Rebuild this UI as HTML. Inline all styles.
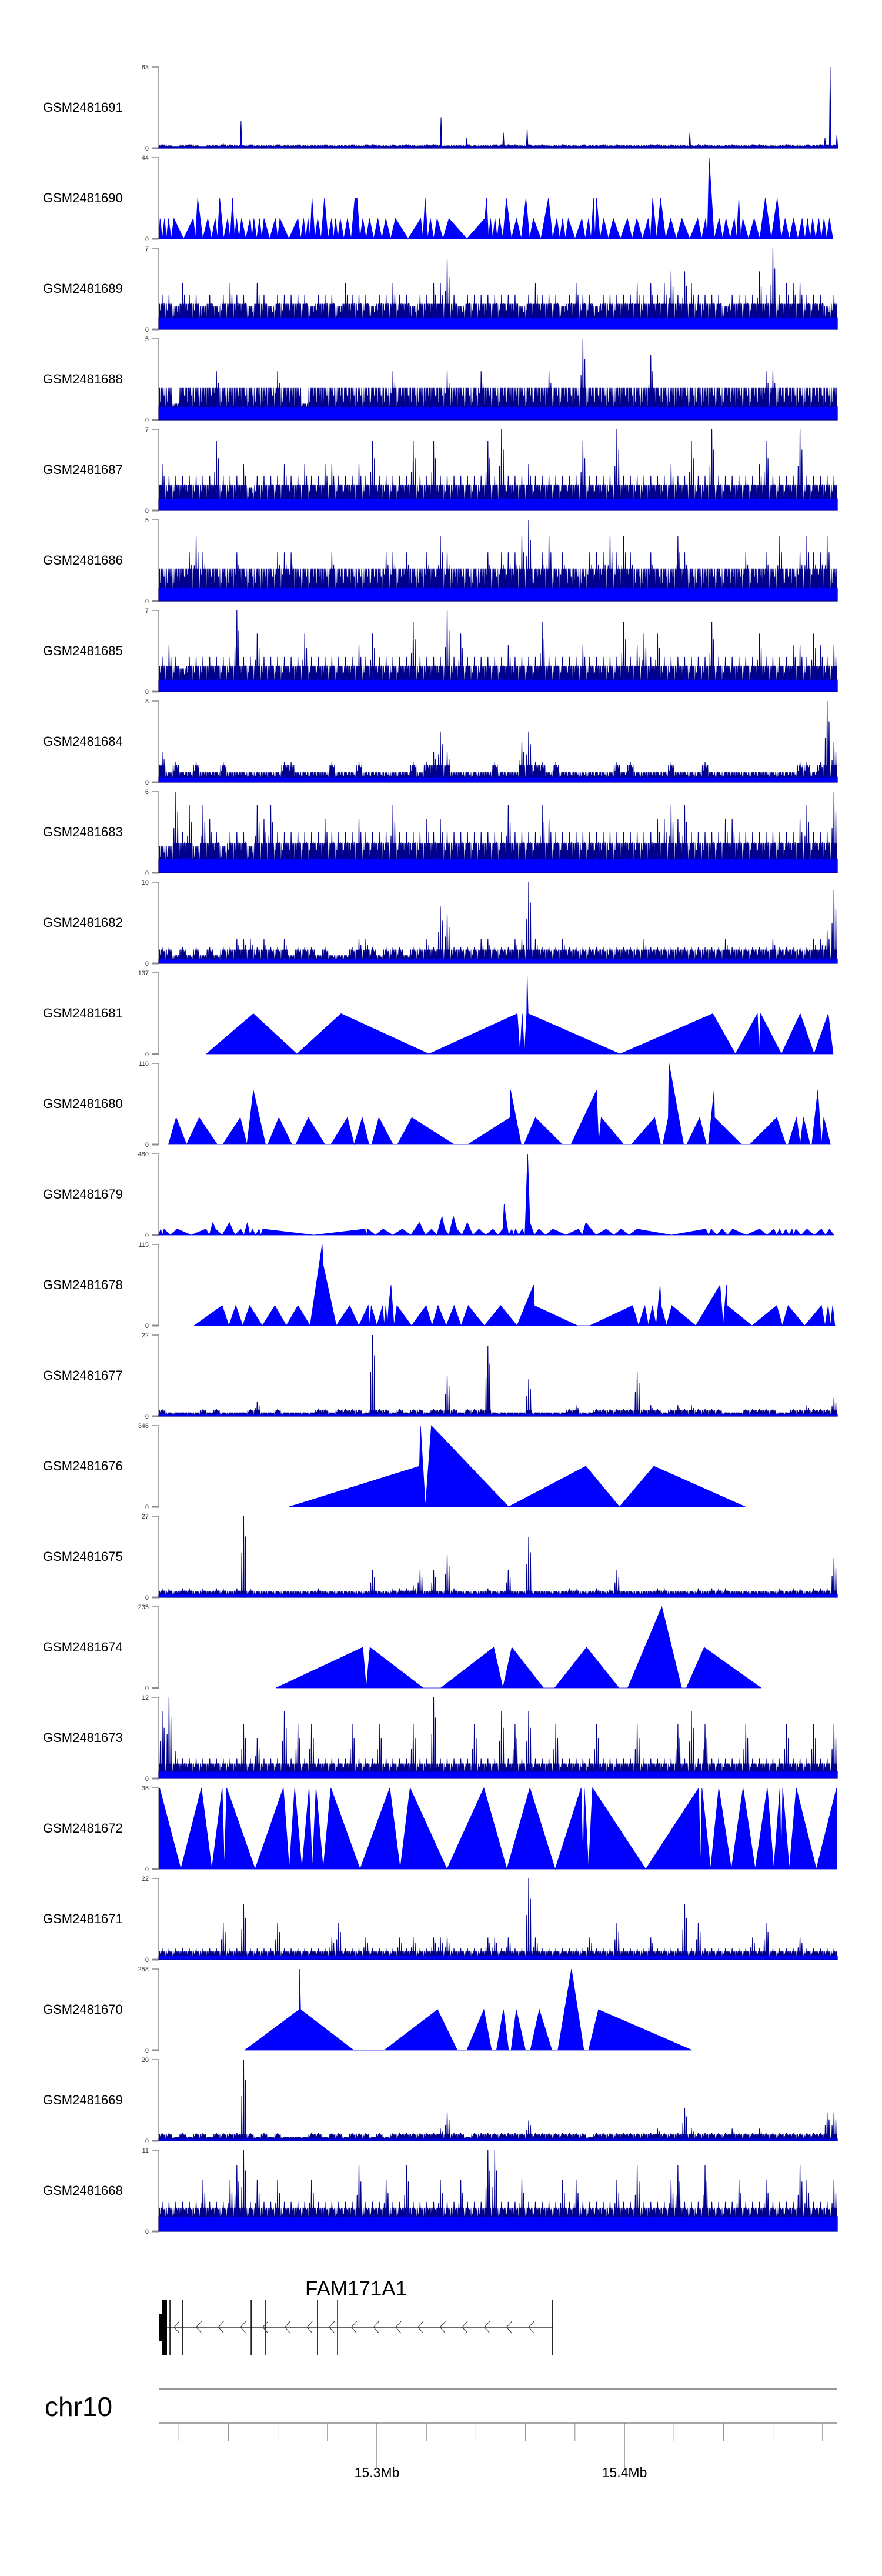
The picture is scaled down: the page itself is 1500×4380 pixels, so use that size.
<!DOCTYPE html>
<html><head><meta charset="utf-8"><title>Coverage tracks</title>
<style>
html,body{margin:0;padding:0;background:#fff;}
svg{display:block;font-family:"Liberation Sans",Arial,sans-serif;}
</style></head>
<body>
<svg id="chart" width="1500" height="4380" viewBox="0 0 1500 4380" xmlns="http://www.w3.org/2000/svg">
<rect width="1500" height="4380" fill="#fff"/>
<g id="tracks"></g>
<g id="gene"></g>
<g id="axis"></g>
</svg>
<script>
// ---- track names & y maxima (top to bottom) ----
const trackNames = ["GSM2481691","GSM2481690","GSM2481689","GSM2481688","GSM2481687","GSM2481686","GSM2481685","GSM2481684","GSM2481683","GSM2481682","GSM2481681","GSM2481680","GSM2481679","GSM2481678","GSM2481677","GSM2481676","GSM2481675","GSM2481674","GSM2481673","GSM2481672","GSM2481671","GSM2481670","GSM2481669","GSM2481668"];
const trackMax = [63,44,7,5,7,5,7,8,6,10,137,116,480,115,22,346,27,235,12,36,22,258,20,11];

// ---- noisy tracks: 100 binned coverage values ----
const bins691 = [3,2,1,2,3,2,1,2,2,4,3,2,2,3,2,2,2,3,2,2,3,2,2,2,3,2,2,2,3,2,3,3,2,2,3,2,3,2,2,3,3,2,2,2,2,3,2,2,2,3,3,3,3,2,3,2,3,2,2,3,2,2,3,2,2,3,2,3,2,2,2,2,3,3,2,3,2,2,2,3,3,2,2,2,3,2,2,3,3,2,2,2,3,2,2,3,2,3,3,3];
const peakPos691 = [15245.1,15325.9,15336.3,15351.1,15360.7,15426.4,15481.0,15483.1,15485.8];
const peakVal691 = [21,24,8,12,15,12,8,63,10];
const bins689 = [3,3,2,4,3,3,2,3,2,3,4,3,3,2,4,3,2,3,3,3,3,3,2,3,3,3,2,4,3,3,3,2,3,3,4,3,3,2,3,3,4,4,6,3,2,3,3,3,3,3,3,3,3,2,3,4,3,3,3,2,3,4,3,3,2,3,3,3,3,3,4,3,4,3,4,5,3,5,4,3,3,3,3,2,3,3,3,3,5,3,7,3,4,4,4,3,3,3,2,3];
const bins688 = [2,2,1,2,2,2,2,2,3,2,2,2,2,2,2,2,2,3,2,2,2,1,2,2,2,2,2,2,2,2,2,2,2,2,3,2,2,2,2,2,2,2,3,2,2,2,2,3,2,2,2,2,2,2,2,2,2,3,2,2,2,2,5,2,2,2,2,2,2,2,2,2,4,2,2,2,2,2,2,2,2,2,2,2,2,2,2,2,2,3,3,2,2,2,2,2,2,2,2,2];
const bins687 = [4,3,3,3,3,3,3,3,6,3,3,3,4,2,3,3,3,3,4,3,3,4,3,3,4,4,3,3,3,4,3,6,3,3,3,3,3,6,3,3,6,3,3,3,3,3,3,3,6,3,7,3,3,3,4,3,3,3,3,3,3,3,6,3,3,3,3,7,3,3,3,3,3,3,3,4,3,3,6,3,3,7,3,3,3,3,3,3,4,6,3,3,3,3,7,3,3,3,3,3];
const bins686 = [2,2,2,2,3,4,3,2,2,2,2,3,2,2,2,2,2,3,3,3,2,2,2,2,2,3,2,2,2,2,2,2,2,3,3,2,3,2,2,3,2,4,3,2,2,2,2,2,3,2,3,3,3,4,5,2,3,4,2,3,2,2,2,3,3,3,4,3,4,3,2,2,3,2,2,2,4,3,2,2,2,2,2,2,2,2,3,2,2,3,2,4,2,2,3,4,3,3,4,2];
const bins685 = [3,4,3,2,3,3,3,3,3,3,3,7,3,3,5,3,3,3,3,3,3,5,3,3,3,3,3,3,3,4,3,5,3,3,3,3,3,6,3,3,3,3,7,3,5,3,3,3,3,3,3,4,3,3,3,3,6,3,3,3,3,3,4,3,3,3,3,3,6,3,4,5,3,5,3,3,3,3,3,3,3,6,3,3,3,3,3,3,5,3,3,3,3,4,4,3,5,4,3,4];
const bins684 = [3,1,2,1,1,2,1,1,1,2,1,1,1,1,1,1,1,1,2,2,1,1,1,1,1,2,1,1,1,2,1,1,1,1,1,1,1,2,1,2,3,5,3,1,1,1,1,1,1,2,1,1,1,4,5,2,2,1,2,1,1,1,1,1,1,1,1,2,1,2,1,1,1,1,1,2,1,1,1,1,2,1,1,1,1,1,1,1,1,1,1,1,1,1,2,2,1,2,8,4];
const bins683 = [2,2,6,3,5,2,5,4,3,2,3,3,3,2,5,4,5,3,3,3,3,3,3,3,4,3,3,3,3,4,3,3,3,3,5,3,3,3,3,4,3,4,3,3,3,3,3,3,3,3,3,5,3,3,3,3,5,4,3,3,3,3,3,3,3,3,3,3,3,3,3,3,3,4,4,5,4,5,3,3,3,3,3,4,4,3,3,3,3,3,3,3,3,3,4,5,3,3,3,6];
const bins682 = [2,2,1,2,1,2,1,2,1,2,2,3,3,3,2,3,2,2,3,1,2,2,2,1,2,1,1,1,2,3,3,2,1,2,2,2,1,2,2,3,2,7,6,2,2,2,2,3,3,2,2,2,3,3,10,3,2,2,2,3,2,2,2,2,2,2,2,2,2,2,2,3,2,2,2,2,2,2,2,2,2,2,2,3,2,2,2,2,2,2,3,2,2,2,2,2,3,3,4,9];
const bins677 = [2,1,1,1,1,1,2,1,2,1,1,1,1,2,4,1,1,2,1,1,1,1,1,2,2,1,2,2,2,2,1,22,2,2,1,2,1,2,2,1,2,2,11,2,1,2,2,2,19,1,1,1,1,1,10,1,1,1,1,1,2,3,1,1,2,2,2,2,2,2,12,2,3,2,1,2,3,2,3,2,2,2,2,1,1,1,2,2,2,2,2,1,1,2,2,3,2,2,2,5];
const bins675 = [3,3,2,3,3,2,3,2,3,3,2,3,27,3,2,2,2,2,2,2,2,2,2,3,2,2,2,2,2,2,2,9,2,2,3,3,3,4,9,2,9,2,14,3,2,2,2,2,3,2,2,9,2,2,20,2,2,2,2,2,3,3,2,2,3,2,3,9,2,2,2,2,2,3,3,2,2,2,2,3,2,3,3,3,2,2,2,2,2,2,2,3,2,3,3,2,3,3,3,13];
const bins673 = [10,12,4,3,3,3,3,3,3,3,3,3,8,3,6,3,3,3,10,3,8,3,8,3,3,3,3,3,8,3,3,3,8,3,3,3,3,8,3,3,12,3,3,3,3,3,8,3,3,3,10,3,8,3,10,3,3,3,8,3,3,3,3,3,8,3,3,3,3,3,8,3,3,3,3,3,8,3,10,3,8,3,3,3,3,3,8,3,3,3,3,3,8,3,3,3,8,3,3,8];
const bins671 = [3,3,3,3,3,3,3,3,3,10,3,3,15,3,3,3,3,10,3,3,3,3,3,3,3,6,10,3,3,3,6,3,3,3,3,6,3,6,3,3,6,6,6,3,3,3,3,3,6,6,3,6,3,3,22,6,3,3,3,3,3,3,3,6,3,3,3,10,3,3,3,3,6,3,3,3,3,15,3,10,3,3,3,3,3,3,3,6,3,10,3,3,3,3,6,3,3,3,3,3];
const bins669 = [2,2,1,2,1,2,2,1,2,2,2,2,20,2,1,2,1,2,1,1,1,1,2,2,1,2,2,1,2,2,2,1,2,1,2,2,2,2,2,2,2,3,7,2,2,1,2,2,2,2,2,2,2,2,5,2,2,2,2,2,2,2,2,1,2,2,2,2,2,2,2,2,2,3,2,2,2,8,3,2,2,2,2,2,3,2,2,2,3,2,2,2,2,2,2,2,2,2,7,7];
const bins668 = [4,4,4,4,4,4,7,4,4,4,7,9,11,4,7,4,4,7,4,4,4,4,7,4,4,4,4,4,4,9,4,4,4,7,4,4,9,4,4,4,4,7,4,4,7,4,4,4,11,11,4,4,4,7,4,4,4,4,4,7,4,7,4,4,4,4,4,7,4,4,9,4,4,4,4,7,9,4,4,4,9,4,4,4,4,7,4,4,4,7,4,4,4,4,9,7,4,4,4,7];
const bgLevel = {691:1,689:1,688:0.8,687:1,686:0.8,685:1,684:0.5,683:1,682:0.5,677:0.5,675:1,673:1,671:1,669:0.5,668:2};

// ---- sparse (triangle) tracks: peak positions (kb), peak values, zero positions (kb) ----
const pos690 = [15212.4,15214.2,15215.8,15218.0,15225.8,15227.6,15231.7,15234.7,15236.5,15239.7,15241.7,15243.3,15245.3,15248.8,15250.3,15252.6,15254.4,15259.0,15260.8,15268.1,15270.4,15272.2,15273.8,15276.1,15278.8,15281.7,15283.3,15285.2,15288.1,15291.1,15292.0,15294.3,15297.0,15300.4,15303.6,15307.5,15317.7,15319.5,15321.6,15324.3,15329.1,15343.6,15344.3,15345.9,15347.7,15349.5,15352.3,15356.4,15360.2,15363.2,15369.3,15372.7,15375.0,15377.3,15382.8,15385.5,15387.5,15388.7,15391.6,15395.5,15401.2,15405.0,15409.6,15411.4,15414.6,15418.7,15423.2,15429.6,15432.8,15434.2,15438.3,15441.0,15444.4,15446.2,15447.8,15452.4,15456.9,15461.7,15464.9,15468.3,15471.8,15474.0,15476.0,15478.5,15480.6,15482.8];
const val690 = [11,11,11,11,11,22,11,11,22,11,22,11,11,11,11,11,11,11,11,11,11,11,22,11,22,11,11,11,11,22,22,11,11,11,11,11,11,22,11,11,11,11,22,11,11,11,22,11,22,11,22,11,11,11,11,11,22,22,11,11,11,11,11,22,22,11,11,11,11,44,11,11,11,22,11,11,22,22,11,11,11,11,11,11,11,11];
const ends690 = [15211.9,15484.2];

const pos681 = [15250.1,15285.5,15356.7,15358.7,15360.5,15360.7,15361.1,15435.7,15453.7,15455.0,15471.0,15482.3];
const val681 = [68,68,68,68,68,137,68,68,68,68,68,68];
const zero681 = [15231.1,15267.7,15321.0,15357.8,15359.6,15398.2,15444.8,15454.4,15463.4,15476.6,15484.3];

const pos680 = [15218.9,15228.2,15244.8,15250.1,15260.4,15272.3,15288.1,15294.1,15300.8,15314.1,15353.8,15354.0,15364.0,15388.7,15390.6,15412.2,15417.7,15418.0,15430.4,15436.2,15436.4,15461.5,15469.5,15472.3,15478.1,15480.5];
const val680 = [38.5,38.5,38.5,77.5,38.5,38.5,38.5,38.5,38.5,38.5,38.5,77.5,38.5,77.5,38.5,38.5,38.5,116,38.5,77.5,38.5,38.5,38.5,38.5,77.5,38.5];
const zero680 = [15215.8,15223.1,15235.5,15237.7,15247.5,15255.0,15255.9,15265.7,15267.2,15279.0,15281.4,15290.8,15296.8,15297.9,15306.5,15308.3,15331.2,15336.7,15358.3,15359.4,15374.9,15378.4,15389.6,15399.7,15402.8,15414.6,15415.5,15423.9,15425.1,15433.1,15433.9,15447.3,15450.6,15465.2,15466.1,15471.0,15475.0,15475.7,15479.6,15483.2];

const pos679 = [15212.7,15214.0,15219.3,15230.9,15233.7,15234.8,15240.4,15245.0,15247.7,15249.7,15252.4,15253.9,15295.2,15296.3,15302.5,15310.3,15317.2,15322.1,15326.3,15327.4,15330.9,15332.3,15336.5,15341.2,15346.9,15350.9,15351.4,15352.0,15354.5,15356.0,15358.7,15360.9,15361.8,15365.4,15371.1,15381.5,15384.4,15392.7,15398.7,15405.1,15432.8,15435.1,15439.5,15443.7,15454.6,15460.4,15462.6,15465.2,15467.7,15469.2,15473.7,15479.6,15482.8];
const val679 = [36,36,36,36,74,36,74,36,74,36,36,36,36,36,36,36,74,36,111,36,111,36,74,36,36,36,183,111,36,36,36,480,74,36,36,36,74,36,36,36,36,36,36,36,36,36,36,36,36,36,36,36,36];
const zero679 = [15211.8,15213.3,15216.5,15225.0,15232.3,15237.5,15242.7,15246.3,15248.7,15251.0,15253.1,15274.5,15295.7,15299.4,15306.4,15313.7,15319.6,15324.2,15329.1,15334.4,15338.8,15344.0,15348.9,15353.2,15355.2,15357.3,15359.8,15363.6,15368.2,15376.3,15383.0,15388.5,15395.7,15401.9,15419.0,15434.0,15437.3,15441.6,15449.1,15457.5,15461.5,15463.9,15466.4,15468.4,15471.4,15476.6,15481.2,15484.6];

const pos678 = [15237.5,15243.0,15248.6,15258.8,15268.1,15277.9,15278.3,15289.0,15296.5,15297.7,15302.3,15303.6,15304.8,15305.7,15308.1,15319.9,15324.7,15331.2,15336.9,15350.0,15363.3,15363.6,15403.3,15408.2,15411.3,15414.4,15414.8,15419.1,15438.6,15441.2,15441.5,15461.5,15466.1,15479.6,15482.3,15484.1];
const val678 = [28.5,28.5,28.5,28.5,28.5,115,86,28.5,28.5,28.5,28.5,28.5,28.5,57.5,28.5,28.5,28.5,28.5,28.5,28.5,57.5,28.5,28.5,28.5,28.5,57.5,28.5,28.5,57.5,57.5,28.5,28.5,28.5,28.5,28.5,28.5];
const zero678 = [15226.2,15240.2,15245.8,15253.7,15263.4,15273.0,15283.6,15292.7,15297.1,15300.0,15302.9,15304.2,15306.9,15314.0,15322.3,15328.0,15334.0,15343.4,15356.6,15381.0,15386.0,15405.7,15409.7,15412.8,15417.0,15428.8,15439.9,15451.5,15463.8,15472.8,15481.0,15483.2,15485.0];

const pos676 = [15317.2,15317.6,15322.0,15384.4,15411.9];
const val676 = [173,346,346,173,173];
const zero676 = [15264.6,15319.6,15353.2,15398.0,15448.8];

const pos674 = [15294.3,15297.2,15347.2,15354.5,15384.7,15415.1,15432.2];
const val674 = [117.5,117.5,117.5,117.5,117.5,235,117.5];
const zero674 = [15259.2,15295.7,15318.7,15325.8,15350.9,15367.3,15371.8,15397.8,15401.3,15423.1,15425.0,15455.2];

const pos672 = [15212.2,15229.1,15237.5,15239.3,15262.2,15266.8,15272.6,15275.4,15281.4,15305.2,15313.4,15343.2,15361.8,15382.5,15383.8,15387.1,15430.0,15431.3,15438.1,15447.9,15457.7,15462.8,15463.9,15469.4,15485.7];
const val672 = [36,36,36,36,36,36,36,36,36,36,36,36,36,36,36,36,36,36,36,36,36,36,36,36,36];
const zero672 = [15220.8,15233.3,15238.4,15250.8,15264.6,15269.7,15273.9,15278.3,15293.2,15309.4,15328.3,15352.5,15372.0,15383.3,15385.5,15408.6,15430.7,15434.8,15443.2,15452.8,15460.3,15463.3,15466.6,15477.5];

const pos670 = [15268.6,15268.8,15269.2,15324.5,15343.2,15351.1,15356.3,15365.6,15378.6,15389.5];
const val670 = [129,258,129,129,129,129,129,129,258,129];
const zero670 = [15246.6,15290.6,15303.0,15332.5,15336.3,15346.3,15348.3,15353.2,15354.2,15360.0,15362.0,15370.7,15373.1,15383.6,15385.5,15427.3];

// ---- gene & axis ----
const exonLines = [15216.4,15221.4,15249.2,15255.1,15276.0,15284.1,15371.0];
const axisTicks = [15220,15230,15240,15250,15260,15270,15280,15290,15300,15310,15320,15330,15340,15350,15360,15370,15380,15390,15400,15410,15420,15430,15440,15450,15460,15470,15480];
const majorTicks = [15300,15400];
const majorLabels = ["15.3Mb","15.4Mb"];

// ---- geometry ----
const NS = "http://www.w3.org/2000/svg";
const domStart = 15211.9, domEnd = 15486.0;
function xScale(kb){ return 641 + (kb - 15300) * 4.21; }
const trackTop0 = 114, trackStep = 154, trackH = 138;
function yScale(i, v){ const base = trackTop0 + trackStep*i + trackH; return base - (v / trackMax[i]) * trackH; }
function mk(tag, attrs, parent){ const e = document.createElementNS(NS, tag); for (const k in attrs) e.setAttribute(k, attrs[k]); parent.appendChild(e); return e; }

const tracksG = document.getElementById('tracks');
const noisy = {691:[bins691,peakPos691,peakVal691],689:[bins689],688:[bins688],687:[bins687],686:[bins686],685:[bins685],684:[bins684],683:[bins683],682:[bins682],677:[bins677],675:[bins675],673:[bins673],671:[bins671],669:[bins669],668:[bins668]};
const sparse = {681:[pos681,val681,zero681],680:[pos680,val680,zero680],679:[pos679,val679,zero679],678:[pos678,val678,zero678],676:[pos676,val676,zero676],674:[pos674,val674,zero674],672:[pos672,val672,zero672],670:[pos670,val670,zero670]};

trackNames.forEach((name, i) => {
  const id = +name.slice(-3);
  const top = trackTop0 + trackStep*i, base = top + trackH;
  const g = mk('g', {}, tracksG);
  
  
  const lab = mk('text', {x:73, y:top+76, 'font-size':22, fill:'#000'}, g);
  lab.textContent = name;
  
  
  const ax = mk('path', {d:`M259 ${top}H270V${base}H259`, stroke:'#8c8c8c', 'stroke-width':1.5, fill:'none'}, g);
  
  
  mk('line', {x1:259, x2:270, y1:base, y2:base, stroke:'#8c8c8c', 'stroke-width':3}, g);
  const tMax = mk('text', {x:253, y:top+4, 'font-size':11, 'text-anchor':'end', fill:'#333'}, g);
  tMax.textContent = trackMax[i];
  
  
  const t0 = mk('text', {x:253, y:base+4, 'font-size':11, 'text-anchor':'end', fill:'#333'}, g);
  t0.textContent = '0';
  
  

  if (noisy[id]) {
    const bins = noisy[id][0];
    const bg = bgLevel[id];
    const bw = (domEnd - domStart) / bins.length;
    const x0 = xScale(domStart), x1 = xScale(domEnd);
    const band = mk('rect', {x:x0, y:yScale(i,bg), width:x1-x0, height:base-yScale(i,bg), fill:'#0000b4'}, g);
    
    
    let d = `M${x0} ${base}L${x0} ${yScale(i,bg)}`;
    const yb = yScale(i,bg);
    bins.forEach((v, b) => {
      const c = xScale(domStart + (b+0.5)*bw);
      const h1 = Math.max(bg, v*0.55), h2 = Math.max(bg, v*0.75), h3 = Math.max(bg, Math.min(v, bg+1.2));
      d += `L${c-5} ${yb}L${c-4.4} ${yScale(i,h3)}L${c-3.8} ${yb}L${c-3.2} ${yScale(i,h1)}L${c-2.4} ${yb}L${c-1.6} ${yScale(i,h3)}L${c-0.8} ${yb}L${c} ${yScale(i,v)}L${c+0.8} ${yb}L${c+1.6} ${yScale(i,h3)}L${c+2.4} ${yb}L${c+3.2} ${yScale(i,h2)}L${c+4} ${yb}L${c+4.6} ${yScale(i,h3)}L${c+5.2} ${yb}`;
    });
    d += `L${x1} ${yb}L${x1} ${base}Z`;
    const p = mk('path', {d:d, fill:'#0000ff', stroke:'#00008b', 'stroke-width':1.2, 'stroke-linejoin':'miter'}, g);
    
    
    if (noisy[id][1]) {
      const pp = noisy[id][1], pv = noisy[id][2];
      pp.forEach((kb, k) => {
        const c = xScale(kb);
        const s = mk('path', {d:`M${c-1.5} ${base}L${c} ${yScale(i,pv[k])}L${c+1.5} ${base}Z`, fill:'#0000ff', stroke:'#00008b', 'stroke-width':1}, g);
        
        
      });
    }
  } else {
    let pts = [];
    let posA, valA, zeros = null, ends = null;
    if (id === 690) { posA = pos690; valA = val690; ends = ends690; }
    else { posA = sparse[id][0]; valA = sparse[id][1]; zeros = sparse[id][2]; }
    posA.forEach((p, k) => pts.push([p, valA[k]]));
    if (zeros) zeros.forEach(z => pts.push([z, 0]));
    else {
      for (let k = 0; k < posA.length-1; k++) if (posA[k+1]-posA[k] > 1) pts.push([(posA[k]+posA[k+1])/2, 0]);
      pts.push([ends[0],0]); pts.push([ends[1],0]);
    }
    pts.sort((a,b) => a[0]-b[0]);
    let d = `M${xScale(pts[0][0])} ${base}`;
    pts.forEach(pt => { d += `L${xScale(pt[0])} ${yScale(i, pt[1])}`; });
    d += `L${xScale(pts[pts.length-1][0])} ${base}Z`;
    const p = mk('path', {d:d, fill:'#0000ff', stroke:'#0000ee', 'stroke-width':0.8}, g);
    
    
  }
});

// ---- gene track ----
const geneG = document.getElementById('gene');
const gl = mk('text', {x:519, y:3903, 'font-size':35, fill:'#000'}, geneG);
gl.textContent = 'FAM171A1';


const intron = mk('line', {x1:xScale(15215.2), x2:xScale(15371.0), y1:3957, y2:3957, stroke:'#333', 'stroke-width':1.5}, geneG);


const ex1 = mk('rect', {x:xScale(15213.3), y:3911, width:xScale(15215.2)-xScale(15213.3), height:93, fill:'#000'}, geneG);


const ex2 = mk('rect', {x:xScale(15212.1), y:3934, width:xScale(15215.2)-xScale(15212.1), height:47, fill:'#000'}, geneG);


exonLines.forEach(kb => {
  const l = mk('line', {x1:xScale(kb), x2:xScale(kb), y1:3911, y2:4004, stroke:'#000', 'stroke-width':1.5}, geneG);
  
  
});
for (let ax = 296; ax < 935; ax += 37.7) {
  const a = mk('path', {d:`M${ax+9} 3947L${ax} 3957L${ax+9} 3967`, stroke:'#333', 'stroke-width':1, fill:'none'}, geneG);
  
  
}

// ---- genome axis ----
const axisG = document.getElementById('axis');
const chr = mk('text', {x:76, y:4108, 'font-size':46, fill:'#000'}, axisG);
chr.textContent = 'chr10';


const l1 = mk('line', {x1:270, x2:1424, y1:4062, y2:4062, stroke:'#999', 'stroke-width':2}, axisG);


const l2 = mk('line', {x1:270, x2:1424, y1:4120, y2:4120, stroke:'#888', 'stroke-width':1.5}, axisG);


axisTicks.forEach((kb, k) => {
  if (k % 2 === 1) return;
  const t = mk('line', {x1:xScale(kb), x2:xScale(kb), y1:4120, y2:4151, stroke:'#888', 'stroke-width':1}, axisG);
  
  
});
majorTicks.forEach((kb, k) => {
  const t = mk('line', {x1:xScale(kb), x2:xScale(kb), y1:4120, y2:4197, stroke:'#555', 'stroke-width':1}, axisG);
  
  
  const tl = mk('text', {x:xScale(kb), y:4212, 'font-size':23, 'text-anchor':'middle', fill:'#000'}, axisG);
  tl.textContent = majorLabels[k];
  
  
});
</script>
</body></html>
